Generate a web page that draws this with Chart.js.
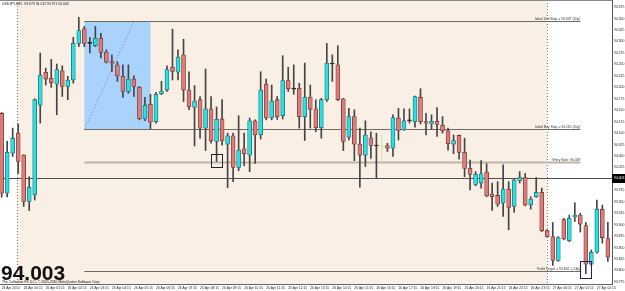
<!DOCTYPE html>
<html>
<head>
<meta charset="utf-8">
<script src="https://cdn.jsdelivr.net/npm/chart.js@4.4.1/dist/chart.umd.min.js"></script>
<style>
    html, body { margin: 0; padding: 0; background: #ffffff; }
    #wrap { width: 625px; height: 291px; }
</style>
</head>
<body>
<div id="wrap"><canvas id="chart" width="625" height="291"></canvas></div>
<script>
/* USDJPY M15 bars */

const opens = [
    94.143, 93.969, 94.056, 94.100, 94.052, 93.951, 93.965, 94.161, 94.233, 94.220,
    94.207, 94.236, 94.202, 94.216, 94.296, 94.328, 94.296, 94.291, 94.307, 94.277,
    94.256, 94.249, 94.224, 94.191, 94.218, 94.200, 94.131, 94.163, 94.125, 94.186,
    94.194, 94.244, 94.233, 94.271, 94.194, 94.156, 94.173, 94.111, 94.153, 94.082,
    94.131, 94.076, 94.094, 94.025, 94.066, 94.052, 94.127, 94.096, 94.207, 94.133,
    94.173, 94.138, 94.215, 94.196, 94.198, 94.136, 94.179, 94.153, 94.112, 94.173,
    94.251, 94.249, 94.175, 94.091, 94.136, 94.076, 94.052, 94.090, 94.072, 94.070,
    94.073, 94.067, 94.133, 94.107, 94.127, 94.125, 94.178, 94.125, 94.120, 94.126,
    94.117, 94.105, 94.076, 94.095, 94.058, 94.023, 93.988, 93.991, 94.015, 93.967,
    93.964, 93.947, 93.978, 93.940, 93.996, 94.003, 93.943, 93.961, 93.971, 93.887,
    93.874, 93.822, 93.911, 93.865, 93.917, 93.921, 93.898, 93.814, 93.840, 93.934,
    93.870
];
const highs = [
    94.145, 94.082, 94.111, 94.120, 94.053, 94.005, 94.175, 94.275, 94.242, 94.261,
    94.251, 94.247, 94.224, 94.309, 94.353, 94.333, 94.309, 94.333, 94.318, 94.282,
    94.271, 94.256, 94.249, 94.249, 94.225, 94.202, 94.178, 94.185, 94.189, 94.213,
    94.247, 94.327, 94.282, 94.305, 94.234, 94.204, 94.180, 94.240, 94.180, 94.157,
    94.173, 94.100, 94.100, 94.138, 94.100, 94.133, 94.129, 94.234, 94.218, 94.205,
    94.180, 94.269, 94.244, 94.249, 94.209, 94.253, 94.205, 94.173, 94.176, 94.296,
    94.271, 94.291, 94.176, 94.154, 94.151, 94.111, 94.127, 94.103, 94.100, 94.096,
    94.078, 94.140, 94.154, 94.153, 94.153, 94.181, 94.197, 94.143, 94.140, 94.156,
    94.136, 94.111, 94.096, 94.096, 94.089, 94.041, 94.016, 94.040, 94.033, 93.991,
    93.994, 94.031, 93.994, 93.999, 94.016, 94.012, 93.961, 94.003, 93.980, 93.889,
    93.905, 93.874, 93.914, 93.921, 93.948, 93.925, 93.905, 93.845, 93.954, 93.943,
    93.905
];
const lows = [
    93.960, 93.961, 94.049, 94.012, 93.940, 93.931, 93.954, 94.122, 94.205, 94.200,
    94.140, 94.180, 94.173, 94.209, 94.289, 94.289, 94.275, 94.289, 94.264, 94.253,
    94.234, 94.213, 94.178, 94.187, 94.180, 94.129, 94.127, 94.109, 94.122, 94.184,
    94.191, 94.216, 94.216, 94.169, 94.151, 94.072, 94.089, 94.062, 94.078, 94.038,
    94.074, 93.981, 93.994, 94.018, 94.029, 94.016, 94.034, 94.087, 94.129, 94.129,
    94.130, 94.131, 94.191, 94.185, 94.111, 94.084, 94.111, 94.103, 94.089, 94.169,
    94.213, 94.171, 94.062, 94.085, 94.040, 93.982, 94.027, 94.045, 94.002, 94.038,
    94.060, 94.049, 94.085, 94.106, 94.122, 94.113, 94.120, 94.096, 94.109, 94.093,
    94.100, 94.063, 94.055, 94.043, 94.005, 93.976, 93.985, 93.980, 93.961, 93.931,
    93.940, 93.918, 93.889, 93.927, 93.991, 93.941, 93.934, 93.960, 93.885, 93.873,
    93.811, 93.820, 93.867, 93.863, 93.907, 93.884, 93.793, 93.811, 93.838, 93.860,
    93.820
];
const closes = [
    93.969, 94.058, 94.089, 94.038, 93.951, 93.982, 94.173, 94.227, 94.218, 94.210,
    94.239, 94.202, 94.216, 94.296, 94.324, 94.296, 94.296, 94.307, 94.276, 94.255,
    94.253, 94.225, 94.191, 94.218, 94.202, 94.131, 94.161, 94.124, 94.185, 94.192,
    94.239, 94.235, 94.266, 94.194, 94.157, 94.170, 94.111, 94.153, 94.083, 94.130,
    94.083, 94.094, 94.025, 94.063, 94.055, 94.127, 94.096, 94.194, 94.133, 94.170,
    94.136, 94.215, 94.197, 94.196, 94.136, 94.179, 94.152, 94.112, 94.173, 94.253,
    94.251, 94.173, 94.082, 94.136, 94.076, 94.052, 94.096, 94.073, 94.072, 94.070,
    94.067, 94.134, 94.106, 94.127, 94.127, 94.180, 94.125, 94.122, 94.126, 94.119,
    94.105, 94.077, 94.084, 94.058, 94.023, 94.010, 94.010, 94.011, 93.963, 93.961,
    93.945, 93.978, 93.938, 93.998, 94.003, 93.943, 93.956, 93.971, 93.887, 93.874,
    93.822, 93.872, 93.869, 93.914, 93.921, 93.901, 93.814, 93.840, 93.934, 93.872,
    93.829
];

const timeLabels = [
    "23 Apr 2010", "26 Apr 00:15", "26 Apr 01:15", "26 Apr 02:15", "26 Apr 03:15",
    "26 Apr 04:15", "26 Apr 05:15", "26 Apr 06:15", "26 Apr 07:15", "26 Apr 08:15",
    "26 Apr 09:15", "26 Apr 10:15", "26 Apr 11:15", "26 Apr 12:15", "26 Apr 13:15",
    "26 Apr 14:15", "26 Apr 15:15", "26 Apr 16:15", "26 Apr 17:15", "26 Apr 18:15",
    "26 Apr 19:15", "26 Apr 20:15", "26 Apr 21:15", "26 Apr 22:15", "26 Apr 23:15",
    "27 Apr 00:15", "27 Apr 01:15", "27 Apr 02:15"
];
const priceTicks = [
    93.775, 93.800, 93.825, 93.850, 93.875, 93.900, 93.925, 93.950, 93.975,
    94.000, 94.025, 94.050, 94.075, 94.100, 94.125, 94.150, 94.175, 94.200,
    94.225, 94.250, 94.275, 94.300, 94.325, 94.350, 94.375
];

/* trade objects drawn on the chart */

const dayBreaks = [3, 99];
const rangeBars = [15, 27];
const rangePrices = [94.108, 94.344];
const fanBars = [15, 24];
const levelBars = [15, 105];
const levelPrices = [94.344, 94.108, 94.038, 93.800];
const levelTexts = [
    "Initial 2nd Stop = 94.347 (10p)",
    "Initial Buy Stop = 94.110 (10p)",
    "Entry Sale: 94.039",
    "Profit Target = 93.802 (+24p)"
];
const entryMarkBars = [38, 40];
const entryMarkPrices = [94.025, 94.054];
const exitMarkBars = [105, 107];
const exitMarkPrices = [93.783, 93.821];
const lastPrice = 94.003;
const headerText = "USDJPY,M15  93.973 94.012 93.971 94.003";
const copyText = "The Collective FX LLC, \u00a9 2001-2010 MetaQuotes Software Corp.";
const paleBar = 69;

const FONT = "'Liberation Sans', Arial, sans-serif";

function candleColor(i, up, down, flat) {
    if (i === paleBar) return '#d9ecb8';
    if (closes[i] > opens[i]) return up;
    if (closes[i] < opens[i]) return down;
    return flat;
}

const bodyData = opens.map(function (o, i) { return { x: i, y: [o, closes[i]] }; });
const wickData = highs.map(function (h, i) { return { x: i, y: [lows[i], h] }; });

const overlays = {
    id: 'overlays',
    beforeDraw: function (chart) {
        const ctx = chart.ctx, x = chart.scales.x, y = chart.scales.y, a = chart.chartArea;
        ctx.save();
        ctx.fillStyle = '#ffffff';
        ctx.fillRect(0, 0, chart.width, chart.height);

        // session background
        const s0 = Math.round(x.getPixelForValue(dayBreaks[0])) - 1;
        const s1 = Math.round(x.getPixelForValue(dayBreaks[1]));
        ctx.fillStyle = '#f9efe4';
        ctx.fillRect(s0, a.top, s1 - s0, a.bottom - a.top);

        // blue range box
        const bx0 = x.getPixelForValue(rangeBars[0]), bx1 = x.getPixelForValue(rangeBars[1]);
        const by0 = y.getPixelForValue(rangePrices[1]), by1 = y.getPixelForValue(rangePrices[0]);
        ctx.fillStyle = '#a9d3fa';
        ctx.fillRect(bx0, by0, bx1 - bx0, by1 - by0);

        // dotted fan line
        ctx.strokeStyle = '#9a72b4';
        ctx.lineWidth = 1;
        ctx.setLineDash([1, 2]);
        ctx.beginPath();
        ctx.moveTo(x.getPixelForValue(fanBars[0]), by1);
        ctx.lineTo(x.getPixelForValue(fanBars[1]), by0);
        ctx.stroke();

        // day separators
        ctx.strokeStyle = '#7a7a7a';
        ctx.setLineDash([1, 2]);
        [s0, s1].forEach(function (px) {
            ctx.beginPath();
            ctx.moveTo(px + 0.5, a.top);
            ctx.lineTo(px + 0.5, a.bottom);
            ctx.stroke();
        });
        ctx.restore();
    },
    beforeDatasetsDraw: function (chart) {
        const ctx = chart.ctx, x = chart.scales.x, y = chart.scales.y, a = chart.chartArea;
        ctx.save();
        const lx0 = x.getPixelForValue(levelBars[0]), lx1 = x.getPixelForValue(levelBars[1]);
        levelPrices.forEach(function (p, k) {
            const py = Math.round(y.getPixelForValue(p)) + 0.5;
            ctx.strokeStyle = k === 2 ? '#bdb4a8' : '#6f6c64';
            ctx.lineWidth = k === 2 ? 2 : 1;
            ctx.beginPath();
            ctx.moveTo(lx0, py);
            ctx.lineTo(lx1, py);
            ctx.stroke();
            ctx.fillStyle = '#333333';
            ctx.font = '3.4px ' + FONT;
            ctx.textAlign = 'right';
            ctx.textBaseline = 'bottom';
            ctx.fillText(levelTexts[k], lx1, py - 1);
        });

        // last price line
        const cy = Math.round(y.getPixelForValue(lastPrice)) + 0.5;
        ctx.strokeStyle = '#4e4e4e';
        ctx.lineWidth = 1;
        ctx.beginPath();
        ctx.moveTo(a.left, cy);
        ctx.lineTo(a.right, cy);
        ctx.stroke();
        ctx.restore();
    },
    afterDraw: function (chart) {
        const ctx = chart.ctx, x = chart.scales.x, y = chart.scales.y, a = chart.chartArea;
        ctx.save();
        ctx.lineWidth = 1;

        // entry / exit marks
        [[entryMarkBars, entryMarkPrices, '#222222'], [exitMarkBars, exitMarkPrices, '#1c1c7a']].forEach(function (m) {
            const x0 = Math.round(x.getPixelForValue(m[0][0])) + 0.5;
            const x1 = Math.round(x.getPixelForValue(m[0][1])) + 0.5;
            const y0 = Math.round(y.getPixelForValue(m[1][1])) + 0.5;
            const y1 = Math.round(y.getPixelForValue(m[1][0])) + 0.5;
            ctx.strokeStyle = m[2];
            ctx.strokeRect(x0, y0, x1 - x0, y1 - y0);
        });

        // top border
        ctx.strokeStyle = '#8a8a8a';
        ctx.beginPath();
        ctx.moveTo(a.left, a.top + 0.5);
        ctx.lineTo(a.right, a.top + 0.5);
        ctx.stroke();

        // price tag on the axis
        const cy = y.getPixelForValue(lastPrice);
        ctx.fillStyle = '#000000';
        ctx.fillRect(a.right, Math.round(cy) - 4, chart.width - a.right, 9);
        ctx.fillStyle = '#ffffff';
        ctx.font = '3.4px ' + FONT;
        ctx.textAlign = 'left';
        ctx.textBaseline = 'middle';
        ctx.fillText(lastPrice.toFixed(3), a.right + 2, Math.round(cy) + 0.5);

        // header, big price and copyright
        ctx.fillStyle = '#111111';
        ctx.textBaseline = 'top';
        ctx.fillText(headerText, 2, 2);
        ctx.font = 'bold 21px ' + FONT;
        ctx.textBaseline = 'alphabetic';
        ctx.fillText(lastPrice.toFixed(3), 1, 280);
        ctx.font = '3.4px ' + FONT;
        ctx.textBaseline = 'bottom';
        ctx.fillText(copyText, 2, 284);
        ctx.restore();
    }
};

var chart = new Chart(document.getElementById('chart').getContext('2d'), {
    type: 'bar',
    data: {
        datasets: [{
            label: 'body',
            data: bodyData,
            backgroundColor: function (c) { return candleColor(c.dataIndex, '#22e4e6', '#dc7d7b', '#222222'); },
            borderColor: function (c) { return candleColor(c.dataIndex, '#2f6466', '#7e3634', '#222222'); },
            borderWidth: 0.8,
            borderSkipped: false,
            barThickness: 4,
            minBarLength: 1,
            grouped: false,
            order: 0
        }, {
            label: 'wick',
            data: wickData,
            backgroundColor: function (c) { return candleColor(c.dataIndex, '#454545', '#454545', '#454545'); },
            barThickness: 1,
            grouped: false,
            order: 1
        }]
    },
    options: {
        responsive: false,
        animation: false,
        layout: { padding: 0 },
        plugins: {
            legend: { display: false },
            tooltip: { enabled: false }
        },
        scales: {
            x: {
                type: 'linear',
                offset: false,
                min: -0.3,
                max: 110.75,
                grid: { display: false, drawTicks: false, offset: false },
                border: { display: true, color: '#666666', width: 1 },
                ticks: {
                    autoSkip: false,
                    maxRotation: 0,
                    minRotation: 0,
                    align: 'start',
                    padding: 2,
                    color: '#222222',
                    font: { family: FONT, size: 3.3 },
                    callback: function (v, i) { return timeLabels[i]; }
                },
                afterBuildTicks: function (scale) {
                    scale.ticks = timeLabels.map(function (t, k) { return { value: k * 4 }; });
                },
                afterFit: function (scale) {
                    scale.height = 7;
                    scale.paddingLeft = 0;
                    scale.paddingRight = 0;
                }
            },
            y: {
                position: 'right',
                min: 93.7706,
                max: 94.3907,
                grid: { display: false, drawTicks: false },
                border: { display: true, color: '#555555', width: 1 },
                ticks: {
                    padding: 2,
                    color: '#222222',
                    font: { family: FONT, size: 3.4 },
                    callback: function (v) { return v.toFixed(3); }
                },
                afterBuildTicks: function (scale) {
                    scale.ticks = priceTicks.map(function (p) { return { value: p }; });
                },
                afterFit: function (scale) {
                    scale.width = 13;
                    scale.paddingTop = 0;
                    scale.paddingBottom = 0;
                }
            }
        }
    },
    plugins: [overlays]
});
</script>
</body>
</html>
